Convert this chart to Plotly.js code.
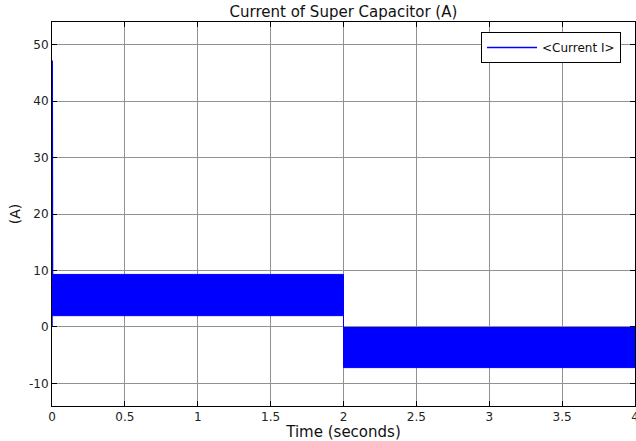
<!DOCTYPE html>
<html>
<head>
<meta charset="utf-8">
<script src="https://cdn.plot.ly/plotly-3.0.1.min.js"></script>
<style>html,body{margin:0;padding:0;background:#fff;}#chart{width:636px;height:441px;}</style>
</head>
<body>
<div id="chart"></div>
<script>
// Envelope of the high-frequency current band
var bandTime    = [0.004, 2.0, 2.0, 4.0, 4.0, 2.0, 2.0, 0.004];
var bandCurrent = [9.3,   9.3, -0.1, -0.1, -7.2, -7.2, 2.0, 2.0];
// Start-up transient spike
var spikeTime    = [0, 0.0015, 0.004, 0.004];
var spikeCurrent = [0, 47.2, 9.3, 2.0];
var seriesName = '<Current I>';
var xTicks = [0, 0.5, 1, 1.5, 2, 2.5, 3, 3.5, 4];
var yTicks = [-10, 0, 10, 20, 30, 40, 50];

var blue = 'rgb(0,0,255)';
var font = 'DejaVu Sans, Arial, sans-serif';

var traces = [
  {
    x: bandTime, y: bandCurrent, type: 'scatter', mode: 'lines',
    fill: 'toself', fillcolor: blue,
    line: {color: blue, width: 1}, showlegend: false, hoverinfo: 'skip'
  },
  {
    x: spikeTime, y: spikeCurrent, type: 'scatter', mode: 'lines',
    name: seriesName, line: {color: blue, width: 1.5}
  }
];

var axisCommon = {
  showline: true, linecolor: '#000', linewidth: 1, mirror: 'ticks',
  ticks: 'inside', ticklen: 5, tickcolor: '#000', tickwidth: 1,
  showgrid: true, gridcolor: 'rgb(145,145,145)', gridwidth: 1,
  zeroline: false, ticklabeloverflow: 'allow',
  tickfont: {family: font, size: 12, color: '#222'}
};

var layout = {
  width: 636, height: 441,
  margin: {l: 52, r: 1, t: 22, b: 35, pad: 0},
  paper_bgcolor: '#fff', plot_bgcolor: '#fff',
  title: {text: 'Current of Super Capacitor (A)', font: {family: font, size: 15, color: '#111'},
          x: 0.54, xanchor: 'center', y: 0.985, yanchor: 'top'},
  xaxis: Object.assign({}, axisCommon, {
    range: [0, 4], tickvals: xTicks, ticktext: xTicks.map(String),
    title: {text: 'Time (seconds)', font: {family: font, size: 15, color: '#111'}, standoff: 2}
  }),
  yaxis: Object.assign({}, axisCommon, {
    range: [-14, 54], tickvals: yTicks, ticktext: yTicks.map(String),
    title: {text: '(A)', font: {family: font, size: 14, color: '#111'}, standoff: 5}
  }),
  showlegend: true,
  legend: {
    x: 0.976, xanchor: 'right', y: 0.974, yanchor: 'top',
    bgcolor: '#fff', bordercolor: '#000', borderwidth: 1,
    font: {family: font, size: 12, color: '#111'},
    itemwidth: 50, tracegroupgap: 0
  }
};

Plotly.newPlot('chart', traces, layout, {staticPlot: true, displayModeBar: false});
</script>
</body>
</html>
